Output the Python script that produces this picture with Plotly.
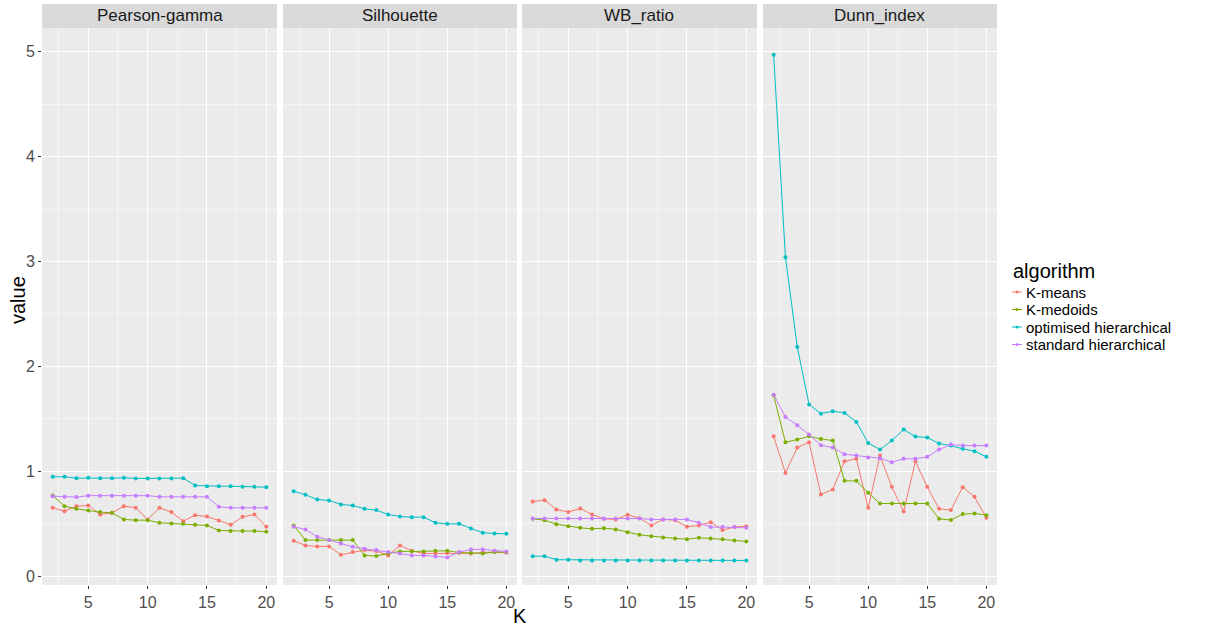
import plotly.graph_objects as go

K = list(range(2, 21))
metrics = ["Pearson-gamma", "Silhouette", "WB_ratio", "Dunn_index"]
algorithms = ["K-means", "K-medoids", "optimised hierarchical", "standard hierarchical"]
colors = ["#F8766D", "#7CAE00", "#00BFC4", "#C77CFF"]

# Pearson-gamma
pg_kmeans = [0.651, 0.619, 0.667, 0.673, 0.587, 0.603, 0.667, 0.651, 0.540, 0.651, 0.610, 0.524, 0.581, 0.568, 0.530, 0.489, 0.565, 0.587, 0.470]
pg_kmedoids = [0.768, 0.667, 0.641, 0.626, 0.610, 0.603, 0.540, 0.533, 0.533, 0.508, 0.502, 0.498, 0.489, 0.483, 0.435, 0.429, 0.429, 0.429, 0.423]
pg_opt = [0.947, 0.947, 0.934, 0.937, 0.934, 0.934, 0.937, 0.931, 0.931, 0.931, 0.931, 0.934, 0.864, 0.857, 0.857, 0.857, 0.851, 0.851, 0.848]
pg_std = [0.762, 0.756, 0.753, 0.767, 0.767, 0.767, 0.767, 0.767, 0.767, 0.756, 0.756, 0.756, 0.756, 0.756, 0.661, 0.651, 0.651, 0.651, 0.651]

# Silhouette
si_kmeans = [0.337, 0.292, 0.283, 0.283, 0.203, 0.229, 0.248, 0.238, 0.197, 0.292, 0.241, 0.216, 0.216, 0.219, 0.222, 0.216, 0.225, 0.229, 0.222]
si_kmedoids = [0.483, 0.343, 0.343, 0.343, 0.343, 0.343, 0.197, 0.191, 0.216, 0.235, 0.235, 0.235, 0.241, 0.241, 0.225, 0.222, 0.216, 0.229, 0.229]
si_opt = [0.810, 0.775, 0.730, 0.721, 0.683, 0.673, 0.641, 0.629, 0.587, 0.568, 0.562, 0.562, 0.508, 0.498, 0.498, 0.454, 0.413, 0.406, 0.403]
si_std = [0.470, 0.445, 0.375, 0.343, 0.311, 0.279, 0.260, 0.248, 0.229, 0.216, 0.197, 0.197, 0.187, 0.178, 0.229, 0.254, 0.254, 0.241, 0.235]

# WB_ratio
wb_kmeans = [0.711, 0.724, 0.635, 0.610, 0.645, 0.587, 0.546, 0.540, 0.584, 0.552, 0.483, 0.540, 0.533, 0.470, 0.483, 0.514, 0.439, 0.467, 0.476]
wb_kmedoids = [0.546, 0.533, 0.495, 0.476, 0.460, 0.451, 0.457, 0.445, 0.419, 0.394, 0.381, 0.368, 0.359, 0.352, 0.365, 0.359, 0.352, 0.340, 0.330]
wb_opt = [0.190, 0.190, 0.156, 0.156, 0.149, 0.149, 0.149, 0.149, 0.149, 0.149, 0.149, 0.149, 0.149, 0.149, 0.149, 0.149, 0.149, 0.149, 0.149]
wb_std = [0.549, 0.549, 0.549, 0.549, 0.549, 0.549, 0.549, 0.549, 0.549, 0.549, 0.540, 0.540, 0.540, 0.540, 0.508, 0.467, 0.467, 0.467, 0.460]

# Dunn_index
dn_kmeans = [1.333, 0.984, 1.225, 1.276, 0.778, 0.826, 1.095, 1.118, 0.651, 1.149, 0.851, 0.616, 1.095, 0.851, 0.641, 0.629, 0.848, 0.756, 0.556]
dn_kmedoids = [1.724, 1.276, 1.302, 1.333, 1.308, 1.292, 0.908, 0.908, 0.794, 0.692, 0.692, 0.692, 0.692, 0.692, 0.546, 0.534, 0.591, 0.597, 0.581]
dn_opt = [4.970, 3.040, 2.185, 1.635, 1.549, 1.572, 1.556, 1.470, 1.270, 1.206, 1.292, 1.397, 1.330, 1.321, 1.264, 1.244, 1.213, 1.191, 1.137]
dn_std = [1.730, 1.518, 1.438, 1.349, 1.248, 1.225, 1.162, 1.149, 1.130, 1.124, 1.086, 1.118, 1.118, 1.137, 1.206, 1.254, 1.244, 1.244, 1.244]

data = {
    "Pearson-gamma": [pg_kmeans, pg_kmedoids, pg_opt, pg_std],
    "Silhouette": [si_kmeans, si_kmedoids, si_opt, si_std],
    "WB_ratio": [wb_kmeans, wb_kmedoids, wb_opt, wb_std],
    "Dunn_index": [dn_kmeans, dn_kmedoids, dn_opt, dn_std],
}

W, H = 1207, 630
panels_px = [(42, 277), (283, 517), (522, 757), (763, 997)]
top_px, bot_px, strip_top_px = 28, 585, 4
y0 = 1 - bot_px / H
y1 = 1 - top_px / H

FONT = "Liberation Sans, Arial, sans-serif"
fig = go.Figure()
layout = {}
shapes = []
annotations = []

for i, m in enumerate(metrics):
    ax = "" if i == 0 else str(i + 1)
    xa = "x" + ax
    ya = "y" + ax
    for j, alg in enumerate(algorithms):
        fig.add_trace(go.Scatter(
            x=K, y=data[m][j], mode="lines+markers", name=alg,
            line=dict(color=colors[j], width=1),
            marker=dict(color=colors[j], size=4),
            xaxis=xa, yaxis=ya, showlegend=False, legendgroup=alg,
        ))
    l, r = panels_px[i]
    dom = [l / W, r / W]
    layout["xaxis" + ax] = dict(
        domain=dom, anchor=ya, range=[1.1, 20.9], tick0=0, dtick=5,
        showgrid=True, gridcolor="white", gridwidth=1.3, zeroline=False,
        minor=dict(dtick=2.5, showgrid=True, gridcolor="#F5F5F5", gridwidth=0.6),
        ticks="outside", ticklen=3, tickcolor="#333333", showline=False,
        tickfont=dict(family=FONT, size=16, color="#4D4D4D"),
    )
    layout["yaxis" + ax] = dict(
        domain=[y0, y1], anchor=xa, range=[-0.085, 5.226], tick0=0, dtick=1,
        showgrid=True, gridcolor="white", gridwidth=1.3, zeroline=False,
        minor=dict(dtick=0.5, showgrid=True, gridcolor="#F5F5F5", gridwidth=0.6),
        ticks="outside" if i == 0 else "", ticklen=3, tickcolor="#333333",
        showticklabels=(i == 0), showline=False,
        tickfont=dict(family=FONT, size=16, color="#4D4D4D"),
    )
    shapes.append(dict(type="rect", xref="paper", yref="paper",
                       x0=dom[0], x1=dom[1], y0=y0, y1=y1,
                       fillcolor="#EBEBEB", line=dict(width=0), layer="below"))
    shapes.append(dict(type="rect", xref="paper", yref="paper",
                       x0=dom[0], x1=dom[1], y0=y1, y1=1 - strip_top_px / H,
                       fillcolor="#D9D9D9", line=dict(width=0), layer="below"))
    annotations.append(dict(text=m, xref="paper", yref="paper",
                            x=(dom[0] + dom[1]) / 2, y=(y1 + 1 - strip_top_px / H) / 2,
                            xanchor="center", yanchor="middle", showarrow=False,
                            font=dict(family=FONT, size=17, color="#1A1A1A")))

annotations.append(dict(text="value", xref="paper", yref="paper", x=18 / W, y=1 - 300 / H,
                        textangle=-90, showarrow=False, xanchor="center", yanchor="middle",
                        font=dict(family=FONT, size=20, color="black")))
annotations.append(dict(text="K", xref="paper", yref="paper", x=520 / W, y=1 - 616 / H,
                        showarrow=False, xanchor="center", yanchor="middle",
                        font=dict(family=FONT, size=20, color="black")))

# Legend (compact, ggplot-style)
annotations.append(dict(text="algorithm", xref="paper", yref="paper", x=1011 / W, y=1 - 271 / H,
                        showarrow=False, xanchor="left", yanchor="middle",
                        font=dict(family=FONT, size=20, color="black")))
leg_y = [292, 309.5, 327, 344.5]
for j, alg in enumerate(algorithms):
    yy = 1 - leg_y[j] / H
    shapes.append(dict(type="line", xref="paper", yref="paper",
                       x0=1012 / W, x1=1022 / W, y0=yy, y1=yy,
                       line=dict(color=colors[j], width=1)))
    shapes.append(dict(type="circle", xref="paper", yref="paper",
                       x0=1015.5 / W, x1=1018.5 / W, y0=yy - 1.5 / H, y1=yy + 1.5 / H,
                       fillcolor=colors[j], line=dict(width=0)))
    annotations.append(dict(text=alg, xref="paper", yref="paper", x=1024 / W, y=yy,
                            showarrow=False, xanchor="left", yanchor="middle",
                            font=dict(family=FONT, size=15, color="black")))

fig.update_layout(
    width=W, height=H, margin=dict(l=0, r=0, t=0, b=0),
    paper_bgcolor="white", plot_bgcolor="rgba(0,0,0,0)",
    shapes=shapes, annotations=annotations, showlegend=False,
    **layout,
)

fig.write_html("out.html")
